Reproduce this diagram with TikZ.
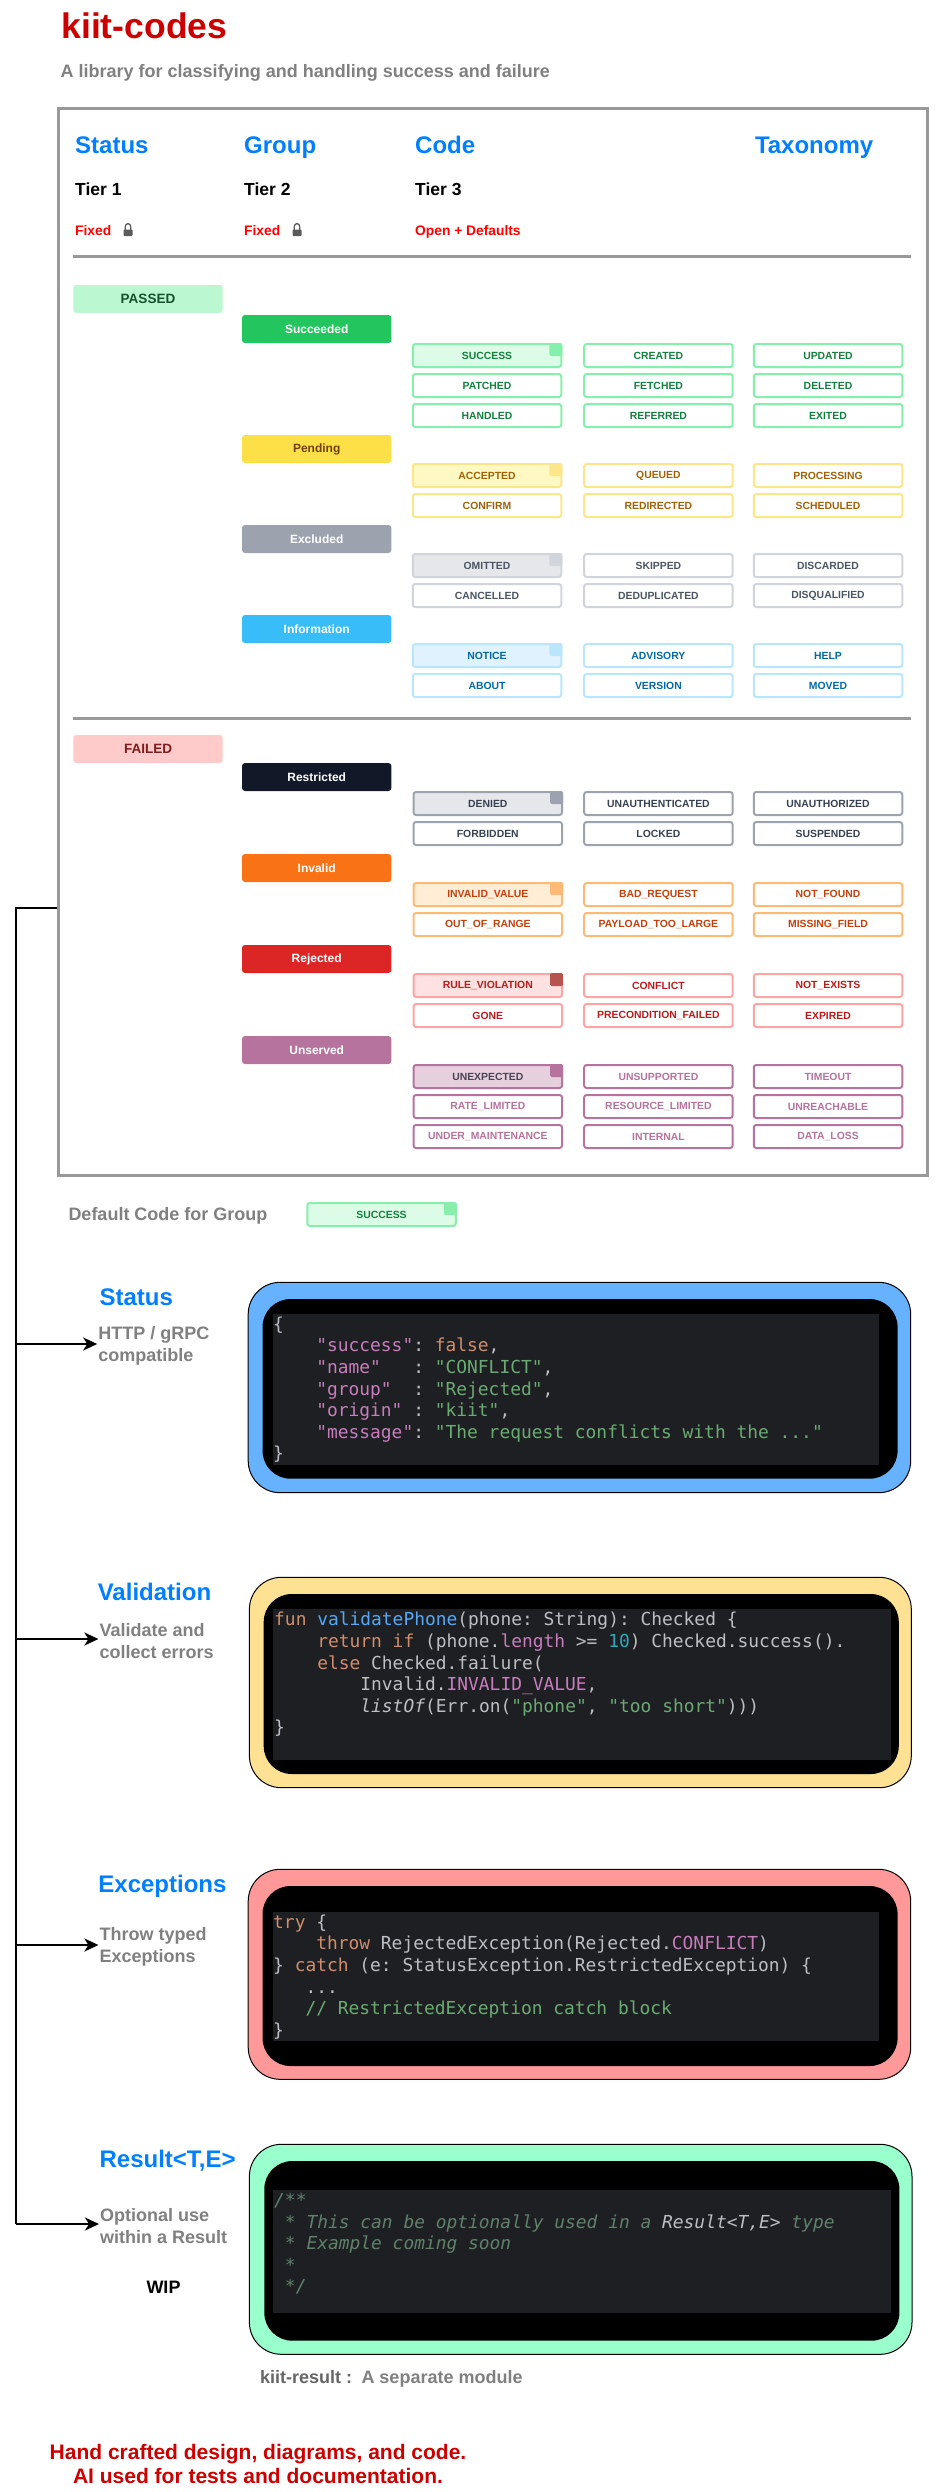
\documentclass[tikz,border=0pt]{standalone}
\usepackage{fontspec}
\setmainfont{Liberation Sans}
\setmonofont{DejaVu Sans Mono}
\usetikzlibrary{calc,arrows.meta}
\definecolor{titleRed}{HTML}{CC0000}
\definecolor{headBlue}{HTML}{007FFF}
\definecolor{softGray}{HTML}{808080}
\definecolor{midGray}{HTML}{666666}
\definecolor{ruleGray}{HTML}{999999}
\definecolor{lockGray}{HTML}{5A5A5A}
\definecolor{passFill}{HTML}{BBF7D0}
\definecolor{passInk}{HTML}{14532D}
\definecolor{failFill}{HTML}{FECACA}
\definecolor{failInk}{HTML}{7F1D1D}
\definecolor{panelBlue}{HTML}{66B2FF}
\definecolor{panelGold}{HTML}{FFE194}
\definecolor{panelRose}{HTML}{FF9999}
\definecolor{panelMint}{HTML}{99FFCC}
\definecolor{codeBack}{HTML}{1E1F22}
\definecolor{codeInk}{HTML}{BCBEC4}
\definecolor{codeKey}{HTML}{CF8E6D}
\definecolor{codeStr}{HTML}{6AAB73}
\definecolor{codeProp}{HTML}{C77DBB}
\definecolor{codeNum}{HTML}{2AACB8}
\definecolor{codeFn}{HTML}{56A8F5}
\definecolor{codeDoc}{HTML}{5F826B}
\newcommand{\ChipTones}[6]{%
  \definecolor{#1Line}{HTML}{#2}\definecolor{#1Tint}{HTML}{#3}\definecolor{#1Ink}{HTML}{#4}%
  \definecolor{#1Fold}{HTML}{#5}\definecolor{#1Lead}{HTML}{#6}}
\ChipTones{ok}{86EFAC}{DCFCE7}{15803D}{86EFAC}{15803D}
\ChipTones{wait}{FDE68A}{FEF9C3}{A16207}{FDE68A}{A16207}
\ChipTones{skip}{D1D5DB}{E5E7EB}{4B5563}{D1D5DB}{4B5563}
\ChipTones{info}{BAE6FD}{E0F2FE}{0369A1}{BAE6FD}{0369A1}
\ChipTones{deny}{9CA3AF}{E5E7EB}{374151}{9CA3AF}{374151}
\ChipTones{bad}{FDBA74}{FFEDD5}{C2410C}{FDBA74}{C2410C}
\ChipTones{reject}{FCA5A5}{FEE2E2}{B91C1C}{B85450}{B91C1C}
\ChipTones{serve}{B5739D}{E6D0DE}{B5739D}{B5739D}{4B4450}
\newcommand{\Px}[2]{\fontsize{#1}{#2}\selectfont}
\newcommand{\Ind}[1]{\hspace*{#1\fontcharwd\font`0}}
\newcommand{\Kw}[1]{{\color{codeKey}#1}}
\newcommand{\Str}[1]{{\color{codeStr}#1}}
\newcommand{\Prop}[1]{{\color{codeProp}#1}}
\newcommand{\Num}[1]{{\color{codeNum}#1}}
\newcommand{\Fn}[1]{{\color{codeFn}#1}}
\newcommand{\Doc}[1]{{\color{codeDoc}\itshape #1}}
\newcommand{\FoldCorner}[2]{%
  \fill[#2Fold,rounded corners=1.5pt] ($(#1.north east)+(-13,0)$) rectangle ($(#1.north east)+(0,13)$);}
\newcommand{\ChipRow}[6]{%
  \foreach \lab/\cx [count=\i] in {#4/#2,#5/658.4,#6/828}{
    \node[chip=#1] (c#3-\i) at (\cx,#3+12.5) {\lab};
  }}
\newcommand{\LeadRow}[6]{%
  \node[chip=#1,fill=#1Tint,text=#1Lead] (c#3-1) at (#2,#3+12.5) {#4};
  \FoldCorner{c#3-1}{#1}
  \foreach \lab/\cx [count=\i from 2] in {#5/658.4,#6/828}{
    \node[chip=#1] (c#3-\i) at (\cx,#3+12.5) {\lab};
  }}
\newcommand{\LockIcon}[2]{%
  \fill[lockGray,rounded corners=0.8pt] (#1-4.5,#2+0.5) rectangle (#1+4.5,#2+7);
  \draw[lockGray,line width=1.3pt] (#1-2.8,#2+1) -- (#1-2.8,#2-2) .. controls (#1-2.8,#2-6.5) and (#1+2.8,#2-6.5) .. (#1+2.8,#2-2) -- (#1+2.8,#2+1);}
\tikzset{
  chip/.style={draw=#1Line,fill=white,text=#1Ink,line width=2pt,rounded corners=2.5pt,
    minimum width=148.5pt,minimum height=23pt,inner sep=0pt,font=\bfseries\Px{10.4}{12}},
  pill/.style={rounded corners=3pt,minimum width=149.4pt,minimum height=28pt,inner sep=0pt},
  tierPill/.style={pill,font=\bfseries\Px{13.5}{15}},
  groupPill/.style={pill,font=\bfseries\Px{12}{14}},
  headText/.style={anchor=base west,inner sep=0pt,text=headBlue,font=\bfseries\Px{24}{28}},
  tierText/.style={anchor=base west,inner sep=0pt,font=\bfseries\Px{17.5}{20}},
  ruleText/.style={anchor=base west,inner sep=0pt,text=red,font=\bfseries\Px{13.8}{16}},
  softText/.style={anchor=base west,inner sep=0pt,text=softGray,font=\bfseries\Px{18}{22}},
  descText/.style={anchor=west,inner sep=0pt,align=left,text=softGray,font=\bfseries\Px{18}{22}},
  panelShell/.style={draw=black,line width=1pt,rounded corners=32pt},
  panelCore/.style={fill=black,rounded corners=28pt},
  panelCode/.style={fill=codeBack},
  codeText/.style={anchor=north west,inner sep=0pt,align=left,text=codeInk,font=\ttfamily\Px{17.9}{21.6}},
  sepRule/.style={ruleGray,line width=3pt},
  feedLine/.style={black,line width=2pt},
  feedArrow/.style={feedLine,-{Stealth[length=14pt,width=13pt,inset=4pt]},shorten >=1pt}
}
\begin{document}
\begin{tikzpicture}[x=1pt,y=-1pt]
  \useasboundingbox[fill=white] (0,0) rectangle (935,2492);
  \node[anchor=base west,inner sep=0pt,text=titleRed,font=\bfseries\Px{35.5}{40}] (mainTitle) at (61.3,38.5) {kiit-codes};
  \node[softText] (mainSub) at (60.5,77.5) {A library for classifying and handling success and failure};
  \node[draw=ruleGray,line width=3pt,minimum width=869pt,minimum height=1067pt,inner sep=0pt] (mainFrame) at (492.7,641.5) {};

  \foreach \lab/\cx [count=\i] in {Status/75,Group/244,Code/415,Taxonomy/754.8}{
    \node[headText] (head\i) at (\cx,153.3) {\lab};
  }
  \foreach \cx [count=\i] in {75,244,415}{
    \node[tierText] (tier\i) at (\cx,195.5) {Tier \i};
  }
  \node[ruleText] (rule1) at (75,235) {Fixed};
  \node[ruleText] (rule2) at (244,235) {Fixed};
  \node[ruleText] (rule3) at (415,235) {Open + Defaults};
  \LockIcon{128}{229}
  \LockIcon{297}{229}
  \draw[sepRule] (72.6,256) -- (911.3,256);
  \draw[sepRule] (72.6,718.7) -- (911.3,718.7);

  \node[tierPill,fill=passFill,text=passInk] (tierPassed) at (148,299) {PASSED};
  \node[tierPill,fill=failFill,text=failInk] (tierFailed) at (148,749) {FAILED};
  \foreach \lab/\py/\shade/\ink in {Succeeded/329/22C55E/FFFFFF,Pending/449/FDE047/713F12,Excluded/539/9CA3AF/FFFFFF,
      Information/629/38BDF8/FFFFFF,Restricted/777/111827/FFFFFF,Invalid/868/F97316/FFFFFF,Rejected/959/DC2626/FFFFFF,Unserved/1050/B5739D/FFFFFF}{
    \definecolor{pillFill}{HTML}{\shade}
    \definecolor{pillInk}{HTML}{\ink}
    \node[groupPill,fill=pillFill,text=pillInk] (group\lab) at (316.7,\py) {\lab};
  }

  \LeadRow{ok}{487}{343}{SUCCESS}{CREATED}{UPDATED}
  \ChipRow{ok}{487}{373}{PATCHED}{FETCHED}{DELETED}
  \ChipRow{ok}{487}{403}{HANDLED}{REFERRED}{EXITED}
  \LeadRow{wait}{487}{463}{ACCEPTED}{QUEUED}{PROCESSING}
  \ChipRow{wait}{487}{493}{CONFIRM}{REDIRECTED}{SCHEDULED}
  \LeadRow{skip}{487}{553}{OMITTED}{SKIPPED}{DISCARDED}
  \ChipRow{skip}{487}{583}{CANCELLED}{DEDUPLICATED}{DISQUALIFIED}
  \LeadRow{info}{487}{643}{NOTICE}{ADVISORY}{HELP}
  \ChipRow{info}{487}{673}{ABOUT}{VERSION}{MOVED}
  \LeadRow{deny}{487.8}{791}{DENIED}{UNAUTHENTICATED}{UNAUTHORIZED}
  \ChipRow{deny}{487.8}{821}{FORBIDDEN}{LOCKED}{SUSPENDED}
  \LeadRow{bad}{487.8}{882}{INVALID\_VALUE}{BAD\_REQUEST}{NOT\_FOUND}
  \ChipRow{bad}{487.8}{912}{OUT\_OF\_RANGE}{PAYLOAD\_TOO\_LARGE}{MISSING\_FIELD}
  \LeadRow{reject}{487.8}{973}{RULE\_VIOLATION}{CONFLICT}{NOT\_EXISTS}
  \ChipRow{reject}{487.8}{1003}{GONE}{PRECONDITION\_FAILED}{EXPIRED}
  \LeadRow{serve}{487.8}{1064}{UNEXPECTED}{UNSUPPORTED}{TIMEOUT}
  \ChipRow{serve}{487.8}{1094}{RATE\_LIMITED}{RESOURCE\_LIMITED}{UNREACHABLE}
  \ChipRow{serve}{487.8}{1124}{UNDER\_MAINTENANCE}{INTERNAL}{DATA\_LOSS}

  \node[softText] (defaultLabel) at (68.3,1220.5) {Default Code for Group};
  \node[chip=ok,fill=okTint] (defaultChip) at (381.5,1214.5) {SUCCESS};
  \FoldCorner{defaultChip}{ok}

  \draw[panelShell,fill=panelBlue] (248.2,1282.3) rectangle (910.7,1492.7);
  \fill[panelCore] (262.5,1299) rectangle (897.6,1478.7);
  \fill[panelCode] (272.6,1314) rectangle (878.6,1465);
  \node[headText] (statusHead) at (99.4,1305) {Status};
  \node[descText] (statusDesc) at (98.2,1346) {HTTP / gRPC\\compatible};
  \node[codeText] (statusCode) at (273,1316.5) {%
\{\\
\Ind{4}\Prop{"success"}: \Kw{false},\\
\Ind{4}\Prop{"name"}~~~: \Str{"CONFLICT"},\\
\Ind{4}\Prop{"group"}~~: \Str{"Rejected"},\\
\Ind{4}\Prop{"origin"}~: \Str{"kiit"},\\
\Ind{4}\Prop{"message"}: \Str{"The request conflicts with the ..."}\\
\}};

  \draw[panelShell,fill=panelGold] (249.4,1577.3) rectangle (911.3,1787.7);
  \fill[panelCore] (263.7,1594) rectangle (898.8,1774);
  \fill[panelCode] (273.2,1609) rectangle (890.5,1760);
  \node[headText] (checkHead) at (97.6,1600) {Validation};
  \node[descText] (checkDesc) at (99.4,1641) {Validate and\\collect errors};
  \node[codeText] (checkCode) at (274,1612) {%
\Kw{fun} \Fn{validatePhone}(phone: String): Checked \{\\
\Ind{4}\Kw{return if} (phone.\Prop{length} >= \Num{10}) Checked.success().\\
\Ind{4}\Kw{else} Checked.failure(\\
\Ind{8}Invalid.\Prop{INVALID\_VALUE},\\
\Ind{8}\textit{listOf}(Err.on(\Str{"phone"}, \Str{"too short"})))\\
\}};

  \draw[panelShell,fill=panelRose] (248.2,1869.3) rectangle (910.7,2079.3);
  \fill[panelCore] (262.5,1886) rectangle (897.6,2066);
  \fill[panelCode] (272.6,1911.7) rectangle (878.6,2040.7);
  \node[headText] (throwHead) at (98.2,1892) {Exceptions};
  \node[descText] (throwDesc) at (99.4,1947) {Throw typed\\Exceptions};
  \node[codeText] (throwCode) at (273,1914.5) {%
\Kw{try} \{\\
\Ind{4}\Kw{throw} RejectedException(Rejected.\Prop{CONFLICT})\\
\} \Kw{catch} (e: StatusException.RestrictedException) \{\\
\Ind{3}...\\
\Ind{3}\Str{// RestrictedException catch block}\\
\}};

  \draw[panelShell,fill=panelMint] (249.4,2144.3) rectangle (912,2354.3);
  \fill[panelCore] (264.3,2161) rectangle (899.4,2340.7);
  \fill[panelCode] (273.2,2190) rectangle (890.5,2313);
  \node[headText] (wrapHead) at (99.4,2167) {Result<T,E>};
  \node[descText] (wrapDesc) at (100,2226) {Optional use\\within a Result};
  \node[anchor=base,inner sep=0pt,font=\bfseries\Px{18}{22}] (wrapNote) at (163.5,2293) {WIP};
  \node[codeText] (wrapCode) at (274,2193) {%
\Doc{/**}\\
\Ind{1}\Doc{* This can be optionally used in a {\color{codeInk}Result<T,E>} type}\\
\Ind{1}\Doc{* Example coming soon}\\
\Ind{1}\Doc{*}\\
\Ind{1}\Doc{*/}};
  \node[softText,text=midGray] (moduleName) at (260,2383) {kiit-result :};
  \node[softText] (moduleNote) at (361.3,2383) {A separate module};

  \node[anchor=base,inner sep=0pt,align=center,text=titleRed,font=\bfseries\Px{21}{24}] (footNote) at (258,2483) {Hand crafted design, diagrams, and code.\\AI used for tests and documentation.};

  \coordinate (feedTop) at (15.5,908);
  \coordinate (wrapIn) at ([yshift=2pt]wrapDesc.west);
  \coordinate (feedEnd) at (feedTop |- wrapIn);
  \draw[feedLine] (mainFrame.west |- feedTop) -- (feedTop) -- (feedEnd);
  \draw[feedArrow] (feedEnd) -- (wrapIn);
  \foreach \nm in {status,check,throw}{
    \coordinate (\nm In) at ([yshift=2pt]\nm Desc.west);
    \draw[feedArrow] (feedTop |- \nm In) -- (\nm In);
  }
\end{tikzpicture}
\end{document}
